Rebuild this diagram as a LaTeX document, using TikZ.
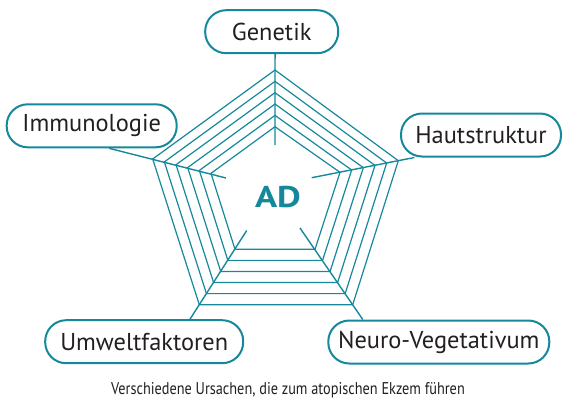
\documentclass[tikz,border=0pt]{standalone}
\usepackage{fontspec}
\setmainfont{PT Sans}
\newfontfamily\capfont[FakeStretch=0.84]{PT Sans}
\newfontfamily\adfont[FakeStretch=1.22]{PT Sans}
\usetikzlibrary{calc}
\definecolor{webteal}{RGB}{22,136,156}
\definecolor{labelgray}{RGB}{35,31,32}
\tikzset{
  cause/.style={draw=webteal, line width=1pt, rounded corners=10.5pt, text=labelgray,
    font=\fontsize{12.2}{13}\selectfont, inner sep=0pt, minimum height=21.5pt},
  web/.style={draw=webteal, line width=0.6pt},
  spoke/.style={draw=webteal, line width=0.7pt}
}
\begin{document}
\begin{tikzpicture}[x=0.5pt, y=-0.5pt]
    \useasboundingbox (0,0) rectangle (563,403);
    \node[cause, minimum width=66.5pt] (genetik) at (271.7,31.7)  {Genetik};
    \node[cause, minimum width=85pt]   (immuno)  at (91.7,125.8)  {Immunologie};
    \node[cause, minimum width=80pt]   (haut)    at (481,135)     {Hautstruktur};
    \node[cause, minimum width=99pt]   (umwelt)  at (144.2,341.7) {Umweltfaktoren};
    \node[cause, minimum width=110.5pt] (neuro)  at (438.8,342)   {Neuro-Vegetativum};
    \node[text=webteal, font=\adfont\bfseries\fontsize{15}{15}\selectfont] (ad) at (278,197) {AD};
    \node[font=\capfont\fontsize{8.5}{9}\selectfont, text=labelgray] (caption) at (288,390)
      {Verschiedene Ursachen, die zum atopischen Ekzem führen};
    \coordinate (nT)  at (275,145);   \coordinate (iT)  at (275,126.7); \coordinate (oT)  at (275,70);
    \coordinate (nR)  at (311.7,177.7); \coordinate (iR) at (340,172.3); \coordinate (oR) at (398.3,160.7);
    \coordinate (nBR) at (300,228);   \coordinate (iBR) at (315,249.3); \coordinate (oBR) at (352.7,304.7);
    \coordinate (nBL) at (246.7,230.5); \coordinate (iBL) at (235,249.3); \coordinate (oBL) at (199.3,304.7);
    \coordinate (nL)  at (226,178);   \coordinate (iL)  at (211,173.3); \coordinate (oL)  at (152.7,159);
    \coordinate (eT)  at (intersection of iT--oT and genetik.south west--genetik.south east);
    \coordinate (eR)  at (intersection of iR--oR and haut.south west--haut.south east);
    \coordinate (eBR) at (intersection of iBR--oBR and neuro.north west--neuro.north east);
    \coordinate (eBL) at (intersection of iBL--oBL and umwelt.north west--umwelt.north east);
    \coordinate (eL)  at (intersection of iL--oL and immuno.south west--immuno.south east);
    \foreach \s in {T,R,BR,BL,L}
      \draw[spoke] (n\s) -- (e\s);
    \foreach \j in {0,...,5}
      \draw[web] ($(iT)!\j/5!(oT)$) -- ($(iR)!\j/5!(oR)$) -- ($(iBR)!\j/5!(oBR)$)
        -- ($(iBL)!\j/5!(oBL)$) -- ($(iL)!\j/5!(oL)$) -- cycle;
  \end{tikzpicture}
\end{document}
